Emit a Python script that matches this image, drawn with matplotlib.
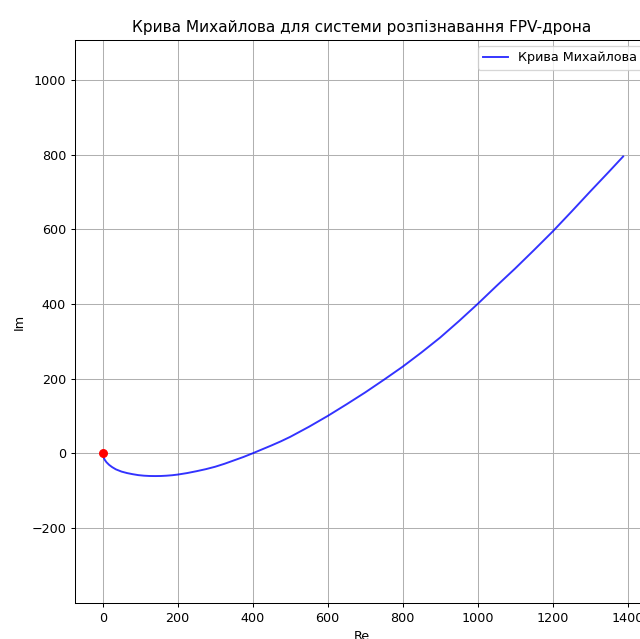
import matplotlib
matplotlib.use("Agg")
import matplotlib.pyplot as plt

# Точки кривої Михайлова (Re, Im)
re_vals = [0, 2, 5, 10, 17, 25, 35, 50, 65, 80, 95, 110, 125, 140, 155, 170,
           185, 200, 225, 250, 275, 300, 325, 350, 375, 400, 425, 450, 475,
           500, 550, 600, 650, 700, 750, 800, 850, 900, 950, 1000, 1050, 1100,
           1150, 1200, 1250, 1300, 1350, 1388]
im_vals = [0, -10, -17, -24, -31, -37, -43, -49, -53, -56, -58.5, -60, -60.8,
           -61, -60.8, -60, -58.8, -57, -53, -48, -42.5, -36, -28, -19, -10, 0,
           10.5, 21, 32, 44, 71, 100, 131, 163, 197, 232, 270, 310, 354, 400,
           448, 495, 544, 594, 647, 701, 754, 795]

# Початкова точка
start_re = [0]
start_im = [0]

DPI = 92
fig = plt.figure(figsize=(640 / DPI, 639 / DPI), dpi=DPI)
ax = fig.add_axes([75 / 640, 36 / 639, 574 / 640, 563 / 639])

ax.plot(re_vals, im_vals, color='blue', alpha=0.8, linewidth=1.5, label='Крива Михайлова')
ax.plot(start_re, start_im, 'ro')

ax.set_xlim(-74, 1457)
ax.set_ylim(-401, 1107)
ax.set_xticks([0, 200, 400, 600, 800, 1000, 1200, 1400])
ax.set_yticks([-200, 0, 200, 400, 600, 800, 1000])

ax.set_title('Крива Михайлова для системи розпізнавання FPV-дрона')
ax.set_xlabel('Re')
ax.set_ylabel('Im')
ax.grid(True)
ax.legend(loc='upper right')

fig.savefig('out.png', dpi=DPI)
